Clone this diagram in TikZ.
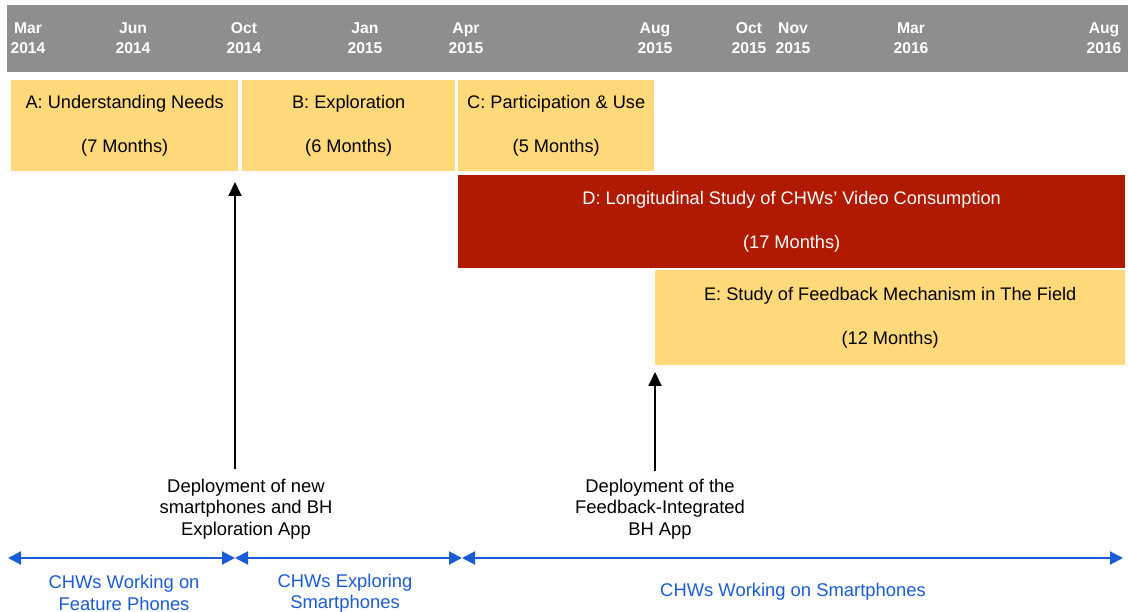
\documentclass[tikz,border=0pt]{standalone}
\usepackage{fontspec}
\setmainfont{Liberation Sans}
\usetikzlibrary{arrows.meta}
\definecolor{hdrgray}{HTML}{8E8E8E}
\definecolor{phaseyellow}{HTML}{FFD97A}
\definecolor{phasered}{HTML}{B01A00}
\definecolor{periodblue}{HTML}{1A5BD6}
\tikzset{
  hdr/.style={text=white, font=\fontsize{15.7}{20}\selectfont\bfseries, align=center, inner sep=0pt},
  phase/.style={fill=phaseyellow, draw=none, anchor=north west, inner sep=0pt},
  phasedark/.style={fill=phasered, draw=none, anchor=north west, inner sep=0pt},
  phasetext/.style={font=\fontsize{18.2}{21}\selectfont, align=center, inner sep=0pt},
  evt/.style={font=\fontsize{18.4}{21.5}\selectfont, align=center, inner sep=0pt},
  period/.style={font=\fontsize{18.4}{21.5}\selectfont, align=center, inner sep=0pt, text=periodblue},
  evtarrow/.style={line width=2pt, -{Triangle[length=14pt,width=13pt]}},
  perarrow/.style={draw=periodblue, line width=2pt, {Triangle[length=13pt,width=13pt]}-{Triangle[length=13pt,width=13pt]}}
}
\begin{document}
\begin{tikzpicture}[x=1pt,y=-1pt]
\useasboundingbox (0,0) rectangle (1128,612);
% header
\node[fill=hdrgray, anchor=north west, minimum width=1121pt, minimum height=67pt, inner sep=0pt] (hdr) at (7,5) {};
\node[hdr] (m1) at (28,38) {Mar\\2014};
\node[hdr] (m2) at (133,38) {Jun\\2014};
\node[hdr] (m3) at (244,38) {Oct\\2014};
\node[hdr] (m4) at (365,38) {Jan\\2015};
\node[hdr] (m5) at (466,38) {Apr\\2015};
\node[hdr] (m6) at (655,38) {Aug\\2015};
\node[hdr] (m7) at (749,38) {Oct\\2015};
\node[hdr] (m8) at (793,38) {Nov\\2015};
\node[hdr] (m9) at (911,38) {Mar\\2016};
\node[hdr] (m10) at (1104,38) {Aug\\2016};
% phases
\node[phase, minimum width=227pt, minimum height=91pt] (A) at (11,80) {};
\node[phasetext] (At) at (A.center) {A: Understanding Needs\\[23pt](7 Months)};
\node[phase, minimum width=213pt, minimum height=91pt] (B) at (242,80) {};
\node[phasetext] (Bt) at (B.center) {B: Exploration\\[23pt](6 Months)};
\node[phase, minimum width=196pt, minimum height=91pt] (C) at (458,80) {};
\node[phasetext] (Ct) at (C.center) {C: Participation \& Use\\[23pt](5 Months)};
\node[phasedark, minimum width=667pt, minimum height=93pt] (D) at (458,175) {};
\node[phasetext, text=white] (Dt) at (D.center) {D: Longitudinal Study of CHWs’ Video Consumption\\[23pt](17 Months)};
\node[phase, minimum width=470pt, minimum height=95pt] (E) at (655,270) {};
\node[phasetext] (Et) at (E.center) {E: Study of Feedback Mechanism in The Field\\[23pt](12 Months)};
% events
\coordinate (e1s) at (235,469);
\coordinate (e1t) at (235,182);
\coordinate (e2s) at (655,471);
\coordinate (e2t) at (655,372);
\draw[evtarrow] (e1s) -- (e1t);
\draw[evtarrow] (e2s) -- (e2t);
\node[evt] (ev1) at (246,509) {Deployment of new\\smartphones and BH\\Exploration App};
\node[evt] (ev2) at (660,509) {Deployment of the\\Feedback-Integrated\\BH App};
% periods
\coordinate (p0) at (8,558);
\coordinate (p1) at (235,558);
\coordinate (p2) at (462,558);
\coordinate (p3) at (1123,558);
\draw[perarrow] (p0) -- (p1);
\draw[perarrow] (p1) -- (p2);
\draw[perarrow] (p2) -- (p3);
\node[period] (t1) at (124,593) {CHWs Working on\\Feature Phones};
\node[period] (t2) at (345,593) {CHWs Exploring\\Smartphones};
\node[period] (t3) at (793,592) {CHWs Working on Smartphones};
\end{tikzpicture}
\end{document}
